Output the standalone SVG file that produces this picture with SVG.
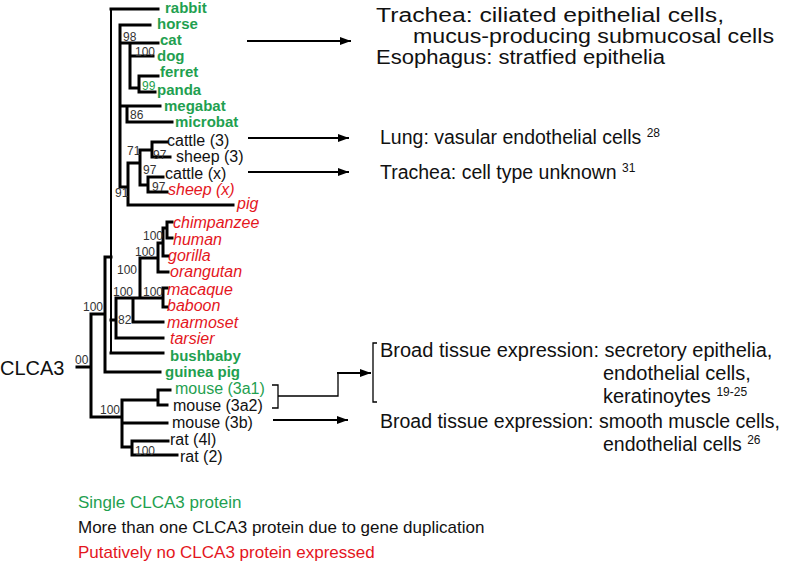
<svg xmlns="http://www.w3.org/2000/svg" width="786" height="565" viewBox="0 0 786 565">
<defs>
<marker id="ah" markerUnits="userSpaceOnUse" markerWidth="12" markerHeight="10" refX="11" refY="5" orient="auto">
<path d="M0,1 L11,5 L0,9 Z" fill="#000"/>
</marker>
<style>
text{font-family:"Liberation Sans",Arial,sans-serif;}
.g{fill:#1fa050;font-weight:bold;font-size:15px;}
.gr{fill:#1fa050;font-size:16px;}
.k{fill:#111;font-size:16px;}
.r{fill:#e4161d;font-size:16px;font-style:italic;}
.b{fill:#333;font-size:12px;}
.t{fill:#111;font-size:19.5px;}
.t2{fill:#111;font-size:20px;}
.s{fill:#111;font-size:12px;}
.br{fill:none;stroke:#000;stroke-width:3;stroke-linecap:square;}
.thin{fill:none;stroke:#000;stroke-width:2;}
.ar{fill:none;stroke:#000;stroke-width:2;}
.bk{fill:none;stroke:#000;stroke-width:1.3;}
</style>
</defs>
<rect width="786" height="565" fill="#fff"/>
<g id="tree">
<path class="thin" d="M111,8 V353"/>
<path class="br" d="M77,367 H91 M91,314 V417 M91,314 H105 M105,257 V372 M105,257 H111 M105,372 H160
M111,9 H158 M111,353 H163
M120,25 V187 H128 M120,25 H150
M120,43 H158 M130,43 V88 M130,56 H153 M130,88 H139 M139,76 V92 M139,76 H158 M139,92 H155
M120,106 H160 M127,106 V122 H172
M128,163 V205 H233 M128,163 H140 M140,150 V185 M140,150 H152 M152,142 V157 M152,142 H167 M152,157 H170 M140,185 H148 M148,177 V192 M148,177 H163 M148,192 H167
M116,298 V338 H163 M111,320 H116 M116,298 H163 M133,298 V322 H163
M140,258 V298 M140,258 H158 M163,288 V307 M163,288 H167 M163,307 H167
M158,243 V272 H168 M158,243 H163 M163,228 V256 H168 M163,228 H167 M167,222 V238 M167,222 H172 M167,238 H172
M91,417 H122 M122,400 V447 M122,400 H158 M158,390 V405 M158,390 H170 M158,405 H167 M122,423 H167 M122,447 H132 M132,441 V455 M132,441 H168 M132,455 H177"/>
</g>
<g id="bootstrap">
<text class="b" x="123" y="41">98</text>
<text class="b" x="135" y="56">100</text>
<text class="b" x="142" y="90" style="fill:#1fa050">99</text>
<text class="b" x="130" y="119">86</text>
<text class="b" x="127" y="155">71</text>
<text class="b" x="153" y="159">97</text>
<text class="b" x="143" y="174">97</text>
<text class="b" x="152" y="191">97</text>
<text class="b" x="115" y="197">91</text>
<text class="b" x="143" y="240">100</text>
<text class="b" x="135" y="256">100</text>
<text class="b" x="117" y="274">100</text>
<text class="b" x="143" y="296">100</text>
<text class="b" x="113" y="296">100</text>
<text class="b" x="118" y="324">82</text>
<text class="b" x="83" y="311">100</text>
<text class="b" x="75" y="364">00</text>
<text class="b" x="100" y="414">100</text>
<text class="b" x="135" y="455">100</text>
</g>
<g id="root"><text x="0" y="375" style="font-size:20px;fill:#111">CLCA3</text></g>
<g id="leaf-rabbit"><text class="g" x="165" y="13">rabbit</text></g>
<g id="leaf-horse"><text class="g" x="157" y="29">horse</text></g>
<g id="leaf-cat"><text class="g" x="160" y="45">cat</text></g>
<g id="leaf-dog"><text class="g" x="157" y="61">dog</text></g>
<g id="leaf-ferret"><text class="g" x="160" y="77">ferret</text></g>
<g id="leaf-panda"><text class="g" x="157" y="95">panda</text></g>
<g id="leaf-megabat"><text class="g" x="164" y="111">megabat</text></g>
<g id="leaf-microbat"><text class="g" x="175" y="127">microbat</text></g>
<g id="leaf-cattle3"><text class="k" x="167" y="146">cattle (3)</text></g>
<g id="leaf-sheep3"><text class="k" x="176" y="162">sheep (3)</text></g>
<g id="leaf-cattlex"><text class="k" x="165" y="179">cattle (x)</text></g>
<g id="leaf-sheepx"><text class="r" x="168" y="195">sheep (x)</text></g>
<g id="leaf-pig"><text class="r" x="237" y="209">pig</text></g>
<g id="leaf-chimpanzee"><text class="r" x="173" y="228">chimpanzee</text></g>
<g id="leaf-human"><text class="r" x="173" y="245">human</text></g>
<g id="leaf-gorilla"><text class="r" x="168" y="261">gorilla</text></g>
<g id="leaf-orangutan"><text class="r" x="170" y="277">orangutan</text></g>
<g id="leaf-macaque"><text class="r" x="167" y="295">macaque</text></g>
<g id="leaf-baboon"><text class="r" x="167" y="311">baboon</text></g>
<g id="leaf-marmoset"><text class="r" x="167" y="328">marmoset</text></g>
<g id="leaf-tarsier"><text class="r" x="170" y="344">tarsier</text></g>
<g id="leaf-bushbaby"><text class="g" x="170" y="361">bushbaby</text></g>
<g id="leaf-guineapig"><text class="g" x="165" y="377">guinea pig</text></g>
<g id="leaf-mouse3a1"><text class="gr" x="175" y="394">mouse (3a1)</text></g>
<g id="leaf-mouse3a2"><text class="k" x="173" y="411">mouse (3a2)</text></g>
<g id="leaf-mouse3b"><text class="k" x="172" y="428">mouse (3b)</text></g>
<g id="leaf-rat4l"><text class="k" x="170" y="445">rat (4l)</text></g>
<g id="leaf-rat2"><text class="k" x="180" y="462">rat (2)</text></g>
<g id="connectors">
<path class="ar" d="M247,41 H351" marker-end="url(#ah)"/>
<path class="ar" d="M248,138 H349" marker-end="url(#ah)"/>
<path class="ar" d="M248,172 H349" marker-end="url(#ah)"/>
<path class="ar" d="M273,420 H348" marker-end="url(#ah)"/>
<path class="bk" d="M272,385 H278 V408 H272 M278,396 H338 V373"/>
<path class="ar" d="M337,373 H371" marker-end="url(#ah)"/>
<path class="bk" d="M377,343 H373 V402 H377"/>
</g>
<g id="info-carnivore">
<text class="t2" x="376" y="22" textLength="348" lengthAdjust="spacingAndGlyphs">Trachea:  ciliated epithelial cells,</text>
<text class="t2" x="413" y="43" textLength="361" lengthAdjust="spacingAndGlyphs">mucus-producing  submucosal cells</text>
<text class="t2" x="376" y="64" textLength="289" lengthAdjust="spacingAndGlyphs">Esophagus: stratfied epithelia</text>
</g>
<g id="info-cattle3"><text class="t" x="380" y="144">Lung: vasular endothelial cells <tspan class="s" dy="-7">28</tspan></text></g>
<g id="info-cattlex"><text class="t" x="380" y="179">Trachea: cell type unknown <tspan class="s" dy="-7">31</tspan></text></g>
<g id="info-mouse3a">
<text class="t2" x="380" y="357">Broad tissue expression: secretory epithelia,</text>
<text class="t2" x="603" y="380">endothelial cells,</text>
<text class="t2" x="603" y="403">keratinoytes <tspan class="s" dy="-7">19-25</tspan></text>
</g>
<g id="info-mouse3b">
<text class="t" x="380" y="428">Broad tissue expression: smooth muscle cells,</text>
<text class="t" x="603" y="451">endothelial cells <tspan class="s" dy="-7">26</tspan></text>
</g>
<g id="legend">
<text x="78" y="508" style="font-size:17px;fill:#1fa050">Single CLCA3 protein</text>
<text x="78" y="533" style="font-size:17px;fill:#111">More than  one CLCA3 protein due to gene duplication</text>
<text x="78" y="558" style="font-size:17px;fill:#e4161d">Putatively  no CLCA3 protein expressed</text>
</g>
</svg>
